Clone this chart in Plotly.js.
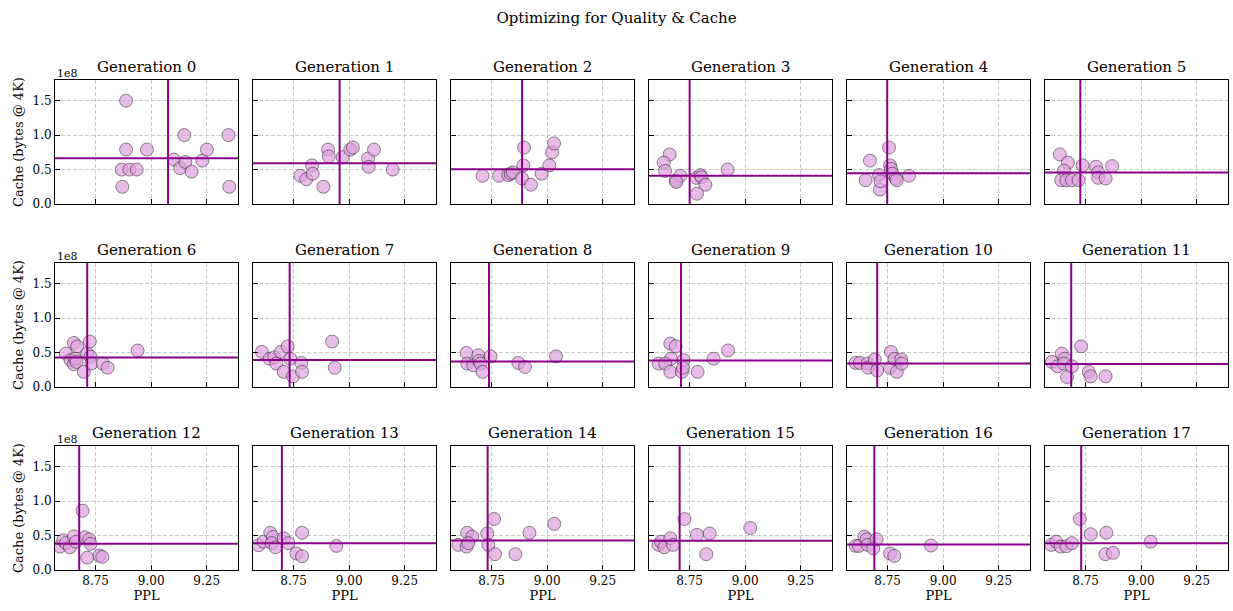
<!DOCTYPE html>
<html>
<head>
<meta charset="utf-8">
<script src="https://cdn.plot.ly/plotly-3.0.1.min.js"></script>
<style>html,body{margin:0;padding:0;background:#fff;}#chart{width:1233px;height:611px;}</style>
</head>
<body>
<div id="chart"></div>
<script>
// ---- data (PPL values, cache in units of 1e8 bytes) ----
const generations = [0,1,2,3,4,5,6,7,8,9,10,11,12,13,14,15,16,17];
const pplByGen = [
  [8.887,8.887,8.981,8.867,8.902,8.935,8.870,9.103,9.130,9.149,9.154,9.182,9.230,9.251,9.348,9.352],
  [8.780,8.807,8.833,8.836,8.884,8.905,8.908,8.971,9.005,9.017,9.085,9.088,9.112,9.196],
  [8.709,8.783,8.825,8.836,8.845,8.887,8.896,8.893,8.927,8.975,9.010,9.022,9.031],
  [8.660,8.633,8.639,8.687,8.708,8.690,8.780,8.798,8.804,8.821,8.783,8.921],
  [8.670,8.651,8.711,8.715,8.718,8.756,8.761,8.765,8.771,8.786,8.791,8.846],
  [8.634,8.670,8.652,8.640,8.663,8.688,8.718,8.736,8.797,8.806,8.806,8.840,8.869],
  [8.616,8.652,8.667,8.637,8.652,8.658,8.664,8.697,8.712,8.724,8.727,8.731,8.782,8.804,8.939],
  [8.607,8.642,8.663,8.672,8.693,8.723,8.705,8.735,8.747,8.785,8.788,8.923,8.935],
  [8.637,8.640,8.667,8.690,8.694,8.700,8.709,8.745,8.870,8.900,9.040],
  [8.610,8.663,8.687,8.666,8.640,8.663,8.715,8.723,8.720,8.786,8.858,8.923],
  [8.606,8.625,8.660,8.662,8.692,8.703,8.761,8.765,8.781,8.791,8.811,8.814],
  [8.598,8.623,8.643,8.655,8.652,8.666,8.688,8.730,8.764,8.773,8.840],
  [8.589,8.604,8.616,8.634,8.652,8.661,8.691,8.702,8.721,8.727,8.712,8.767,8.780],
  [8.592,8.615,8.645,8.657,8.652,8.669,8.705,8.727,8.788,8.762,8.788,8.942],
  [8.600,8.640,8.637,8.663,8.645,8.730,8.735,8.761,8.765,8.857,8.920,9.032],
  [8.610,8.621,8.636,8.663,8.675,8.727,8.783,8.840,8.825,9.023],
  [8.606,8.620,8.645,8.655,8.660,8.685,8.700,8.761,8.780,8.945],
  [8.595,8.618,8.637,8.663,8.688,8.724,8.773,8.843,8.839,8.873,9.043]
];
const cacheByGenE8 = [
  [1.50,0.79,0.79,0.50,0.50,0.50,0.25,0.645,0.52,1.00,0.61,0.47,0.63,0.79,1.00,0.25],
  [0.41,0.36,0.56,0.44,0.25,0.79,0.69,0.68,0.79,0.82,0.66,0.54,0.79,0.50],
  [0.41,0.41,0.42,0.44,0.46,0.37,0.82,0.56,0.28,0.44,0.56,0.75,0.88],
  [0.72,0.60,0.48,0.34,0.41,0.32,0.38,0.42,0.39,0.28,0.15,0.50],
  [0.63,0.345,0.42,0.21,0.33,0.82,0.56,0.51,0.44,0.37,0.345,0.41],
  [0.72,0.60,0.485,0.345,0.345,0.345,0.345,0.56,0.54,0.46,0.38,0.37,0.55],
  [0.485,0.64,0.59,0.39,0.33,0.41,0.365,0.22,0.485,0.66,0.44,0.34,0.34,0.28,0.53],
  [0.51,0.41,0.43,0.34,0.51,0.59,0.22,0.41,0.155,0.35,0.22,0.66,0.28],
  [0.495,0.34,0.315,0.46,0.38,0.34,0.22,0.445,0.35,0.29,0.445],
  [0.34,0.63,0.59,0.41,0.34,0.22,0.22,0.39,0.28,0.22,0.41,0.53],
  [0.35,0.35,0.34,0.28,0.40,0.24,0.28,0.51,0.41,0.22,0.40,0.34],
  [0.365,0.30,0.485,0.41,0.34,0.145,0.30,0.59,0.22,0.155,0.155],
  [0.34,0.43,0.39,0.33,0.49,0.41,0.86,0.475,0.445,0.38,0.18,0.21,0.19],
  [0.36,0.41,0.54,0.48,0.39,0.33,0.46,0.39,0.54,0.24,0.20,0.35],
  [0.365,0.54,0.34,0.485,0.39,0.53,0.365,0.74,0.23,0.23,0.54,0.67],
  [0.365,0.41,0.33,0.46,0.365,0.74,0.51,0.53,0.23,0.61],
  [0.35,0.35,0.485,0.445,0.365,0.315,0.445,0.24,0.205,0.355],
  [0.365,0.41,0.34,0.345,0.39,0.74,0.52,0.54,0.23,0.25,0.41]
];
// mean lines
const meanPPL = [9.076,8.957,8.887,8.750,8.748,8.726,8.712,8.732,8.738,8.711,8.703,8.685,8.676,8.697,8.732,8.705,8.690,8.730];
const meanCacheE8 = [0.665,0.592,0.505,0.41,0.447,0.456,0.427,0.393,0.369,0.383,0.34,0.335,0.382,0.39,0.43,0.425,0.37,0.39];
const xTickVals = [8.75, 9.00, 9.25];
const xTickText = ["8.75", "9.00", "9.25"];
const yTickValsE8 = [0, 0.5, 1.0, 1.5];
const yTickText = ["0.0", "0.5", "1.0", "1.5"];
const SCALE = 1e8;

// ---- layout geometry (pixels) ----
const W = 1233, H = 611;
const colL = [55, 253, 451, 649, 847, 1045];
const colW = 183;
const rowT = [80, 263, 446];
const rowH = 124;
const FONT = "DejaVu Serif";
const lineColor = "#8b008b";

const traces = [];
const layout = {
  width: W, height: H,
  margin: {l: 0, r: 0, t: 0, b: 0},
  paper_bgcolor: "#fff", plot_bgcolor: "#fff",
  showlegend: false,
  font: {family: FONT, color: "#000", size: 13},
  title: {text: "Optimizing for Quality &amp; Cache", x: 0.5, xanchor: "center", y: 1 - 18/H, yanchor: "middle", font: {family: FONT, size: 15, color: "#000"}},
  shapes: [], annotations: []
};

generations.forEach((g, i) => {
  const r = Math.floor(i / 6), c = i % 6;
  const n = i + 1;
  const xa = n === 1 ? "xaxis" : "xaxis" + n;
  const ya = n === 1 ? "yaxis" : "yaxis" + n;
  const xr = n === 1 ? "x" : "x" + n;
  const yr = n === 1 ? "y" : "y" + n;
  const x0 = colL[c] / W, x1 = (colL[c] + colW) / W;
  const y1 = 1 - rowT[r] / H, y0 = 1 - (rowT[r] + rowH) / H;
  const bottom = r === 2, left = c === 0;
  layout[xa] = {
    domain: [x0, x1], anchor: yr, range: [8.567, 9.391],
    tickvals: xTickVals, ticktext: xTickText, showticklabels: bottom,
    ticks: "inside", ticklen: 5, tickwidth: 1, tickcolor: "#000",
    showline: true, linecolor: "#000", linewidth: 1, mirror: true,
    showgrid: true, gridcolor: "#cccccc", griddash: "4px,2px", gridwidth: 1,
    zeroline: false, tickfont: {family: FONT, size: 12, color: "#000"},
    title: bottom ? {text: "PPL", font: {family: FONT, size: 13, color: "#000"}, standoff: 3} : {text: ""}
  };
  layout[ya] = {
    domain: [y0, y1], anchor: xr, range: [0, 1.8 * SCALE],
    tickvals: yTickValsE8.map(v => v * SCALE), ticktext: yTickText, showticklabels: left,
    ticks: "inside", ticklen: 5, tickwidth: 1, tickcolor: "#000",
    showline: true, linecolor: "#000", linewidth: 1, mirror: true,
    showgrid: true, gridcolor: "#cccccc", griddash: "4px,2px", gridwidth: 1,
    zeroline: false, tickfont: {family: FONT, size: 12, color: "#000"},
    title: left ? {text: "Cache (bytes @ 4K)", font: {family: FONT, size: 13, color: "#000"}, standoff: 5} : {text: ""}
  };
  traces.push({
    type: "scatter", mode: "markers", xaxis: xr, yaxis: yr,
    x: pplByGen[i], y: cacheByGenE8[i].map(v => v * SCALE),
    marker: {size: 13, color: "rgba(221,160,221,0.7)", line: {color: "rgba(0,0,0,0.55)", width: 0.8}},
    hoverinfo: "skip"
  });
  // mean lines
  layout.shapes.push({type: "line", xref: xr + " domain", yref: yr, x0: 0, x1: 1, y0: meanCacheE8[i] * SCALE, y1: meanCacheE8[i] * SCALE, line: {color: lineColor, width: 2}});
  layout.shapes.push({type: "line", xref: xr, yref: yr + " domain", x0: meanPPL[i], x1: meanPPL[i], y0: 0, y1: 1, line: {color: lineColor, width: 2}});
  // subplot title
  layout.annotations.push({text: "Generation " + g, xref: "paper", yref: "paper", x: (x0 + x1) / 2, y: y1, yanchor: "bottom", xanchor: "center", yshift: 2, showarrow: false, font: {family: FONT, size: 15, color: "#000"}});
  if (left) {
    layout.annotations.push({text: "1e8", xref: "paper", yref: "paper", x: x0, y: y1, yanchor: "bottom", xanchor: "left", yshift: -2, showarrow: false, font: {family: FONT, size: 11, color: "#000"}});
  }
});

Plotly.newPlot("chart", traces, layout, {staticPlot: true, displayModeBar: false});
</script>
</body>
</html>
